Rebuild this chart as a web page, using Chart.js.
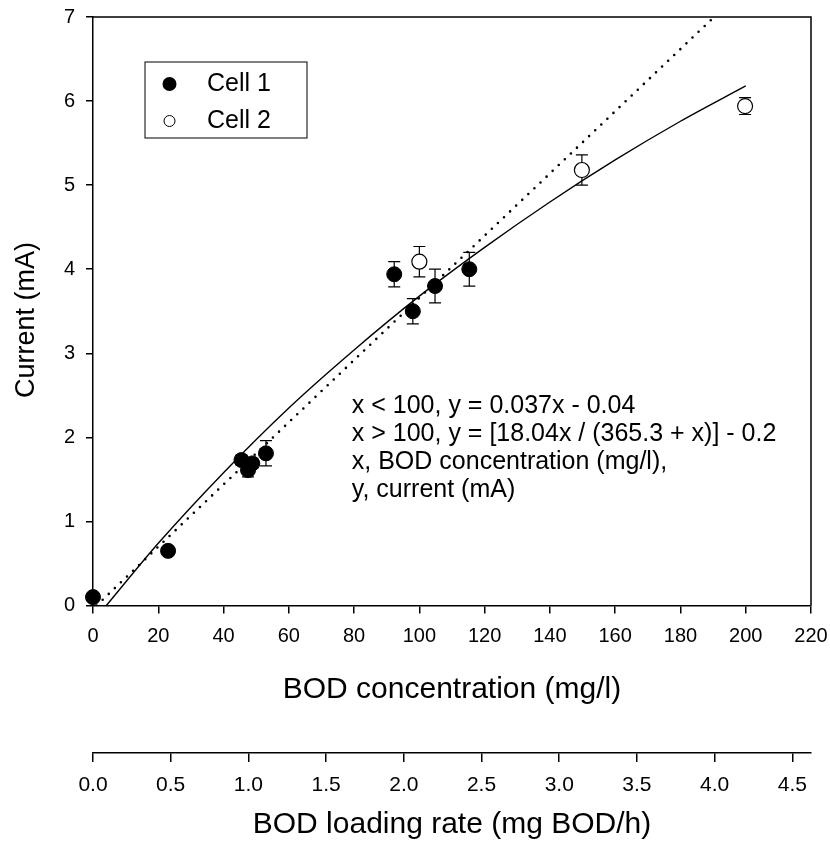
<!DOCTYPE html>
<html>
<head>
<meta charset="utf-8">
<script src="https://cdn.jsdelivr.net/npm/chart.js@4.4.1/dist/chart.umd.min.js"></script>
<style>
  body { margin: 0; background: #fff; }
  #wrap { width: 830px; height: 851px; }
</style>
</head>
<body>
<div id="wrap"><canvas id="bodChart" width="830" height="851"></canvas></div>
<script>
// data
const cell1X = [0, 23, 45.5, 47.5, 48.8, 53, 92.3, 98, 104.8, 115.3];
const cell1Y = [0.1, 0.65, 1.73, 1.61, 1.69, 1.81, 3.94, 3.50, 3.80, 4.00];
const cell1Err = [0, 0, 0.06, 0.08, 0.06, 0.15, 0.15, 0.15, 0.2, 0.2];

const cell2X = [100, 149.8, 199.8];
const cell2Y = [4.09, 5.18, 5.94];
const cell2Err = [0.18, 0.18, 0.1];

// fitted curve (solid) and linear fit (dotted), as drawn
const curveX = [4.1, 20, 40, 60, 80, 100, 120, 140, 160, 180, 200];
const curveY = [0, 0.74, 1.58, 2.35, 3.04, 3.68, 4.26, 4.80, 5.30, 5.76, 6.18];
const linX = [1.1, 190.3];
const linY = [0, 7];

const noteLines = [
  "x < 100, y = 0.037x - 0.04",
  "x > 100, y = [18.04x / (365.3 + x)] - 0.2",
  "x, BOD concentration (mg/l),",
  "y, current (mA)"
];

const FONT = "'Liberation Sans', Arial, Helvetica, sans-serif";

function pts(xs, ys) {
  return xs.map((x, i) => ({ x: x, y: ys[i] }));
}

// error bars, drawn under the markers
const errorBars = {
  id: 'errorBars',
  beforeDatasetsDraw(chart) {
    const ctx = chart.ctx;
    const xs = chart.scales.x, ys = chart.scales.y;
    const sets = [[cell1X, cell1Y, cell1Err], [cell2X, cell2Y, cell2Err]];
    ctx.save();
    ctx.strokeStyle = '#000';
    ctx.lineWidth = 1.2;
    sets.forEach(([xa, ya, ea]) => {
      xa.forEach((x, i) => {
        if (!ea[i]) return;
        const px = xs.getPixelForValue(x);
        const top = ys.getPixelForValue(ya[i] + ea[i]);
        const bot = ys.getPixelForValue(ya[i] - ea[i]);
        ctx.beginPath();
        ctx.moveTo(px, top); ctx.lineTo(px, bot);
        ctx.moveTo(px - 6, top); ctx.lineTo(px + 6, top);
        ctx.moveTo(px - 6, bot); ctx.lineTo(px + 6, bot);
        ctx.stroke();
      });
    });
    ctx.restore();
  }
};

// frame, legend box, y title and the equation text
const extras = {
  id: 'extras',
  afterDraw(chart) {
    const ctx = chart.ctx;
    const a = chart.chartArea;
    ctx.save();
    ctx.strokeStyle = '#000';
    ctx.lineWidth = 1.5;
    ctx.beginPath();
    ctx.moveTo(a.left, a.top); ctx.lineTo(a.right, a.top); ctx.lineTo(a.right, a.bottom);
    ctx.stroke();

    // legend
    const lx = a.left + 52, ly = a.top + 45;
    ctx.lineWidth = 1;
    ctx.strokeRect(lx, ly, 162, 76);
    ctx.fillStyle = '#000';
    ctx.beginPath(); ctx.arc(lx + 24.5, ly + 22, 7, 0, Math.PI * 2); ctx.fill();
    ctx.beginPath(); ctx.arc(lx + 24.5, ly + 59, 5.5, 0, Math.PI * 2);
    ctx.fillStyle = '#fff'; ctx.fill(); ctx.stroke();
    ctx.fillStyle = '#000';
    ctx.font = '25px ' + FONT;
    ctx.textBaseline = 'middle';
    ctx.textAlign = 'left';
    ctx.fillText('Cell 1', lx + 62, ly + 22);
    ctx.fillText('Cell 2', lx + 62, ly + 59);

    // equations
    const tx = chart.scales.x.getPixelForValue(79.3);
    const ty = chart.scales.y.getPixelForValue(2.37);
    ctx.font = '25px ' + FONT;
    noteLines.forEach((t, i) => ctx.fillText(t, tx, ty + i * 28));

    // y title, sits a bit below the axis middle in the original
    ctx.translate(27, 320);
    ctx.rotate(-Math.PI / 2);
    ctx.textAlign = 'center';
    ctx.font = '27px ' + FONT;
    ctx.fillText('Current (mA)', 0, 0);
    ctx.restore();
  }
};

new Chart(document.getElementById('bodChart'), {
  type: 'scatter',
  data: {
    datasets: [
      {
        label: 'fit',
        data: pts(curveX, curveY),
        showLine: true,
        borderColor: '#000',
        borderWidth: 1.4,
        pointRadius: 0,
        cubicInterpolationMode: 'monotone'
      },
      {
        label: 'linear',
        data: pts(linX, linY),
        showLine: true,
        borderColor: '#000',
        borderWidth: 2.6,
        borderDash: [0, 8.4],
        borderCapStyle: 'round',
        pointRadius: 0
      },
      {
        label: 'Cell 1',
        data: pts(cell1X, cell1Y),
        clip: false,
        pointRadius: 7.5,
        pointBackgroundColor: '#000',
        pointBorderColor: '#000',
        pointBorderWidth: 1
      },
      {
        label: 'Cell 2',
        data: pts(cell2X, cell2Y),
        clip: false,
        pointRadius: 7.5,
        pointBackgroundColor: '#fff',
        pointBorderColor: '#000',
        pointBorderWidth: 1.2
      }
    ]
  },
  options: {
    responsive: false,
    animation: false,
    devicePixelRatio: 1,
    layout: { padding: { top: 17, right: 19, left: 0, bottom: 0 } },
    plugins: { legend: { display: false }, tooltip: { enabled: false } },
    scales: {
      x: {
        type: 'linear',
        position: 'bottom',
        weight: 0,
        min: 0, max: 220,
        afterFit: s => { s.height = 147.5; s.paddingLeft = 0; s.paddingRight = 0; },
        ticks: { stepSize: 20, color: '#000', padding: 11, font: { family: FONT, size: 20 } },
        grid: { drawOnChartArea: false, drawTicks: true, tickLength: 8, color: '#000', lineWidth: 1.5 },
        border: { color: '#000', width: 1.5 },
        title: { display: true, text: 'BOD concentration (mg/l)', color: '#000',
                 font: { family: FONT, size: 30 }, padding: { top: 0, bottom: 45 } }
      },
      x2: {
        type: 'linear',
        position: 'bottom',
        weight: 1,
        min: 0, max: 4.62,
        afterFit: s => { s.height = 98; s.paddingLeft = 0; s.paddingRight = 0; },
        ticks: { stepSize: 0.5, includeBounds: false, color: '#000', padding: 11,
                 font: { family: FONT, size: 21 }, callback: v => v.toFixed(1) },
        grid: { drawOnChartArea: false, drawTicks: true, tickLength: 9, color: '#000', lineWidth: 1.5 },
        border: { color: '#000', width: 1.5 },
        title: { display: true, text: 'BOD loading rate (mg BOD/h)', color: '#000',
                 font: { family: FONT, size: 30 }, padding: { top: 0, bottom: 8 } }
      },
      y: {
        type: 'linear',
        min: 0, max: 7,
        afterFit: s => { s.width = 93; s.paddingTop = 0; s.paddingBottom = 0; },
        ticks: { stepSize: 1, color: '#000', padding: 11, font: { family: FONT, size: 20 } },
        grid: { drawOnChartArea: false, drawTicks: true, tickLength: 7, color: '#000', lineWidth: 1.5 },
        border: { color: '#000', width: 1.5 },
        title: { display: false }
      }
    }
  },
  plugins: [errorBars, extras]
});
</script>
</body>
</html>
